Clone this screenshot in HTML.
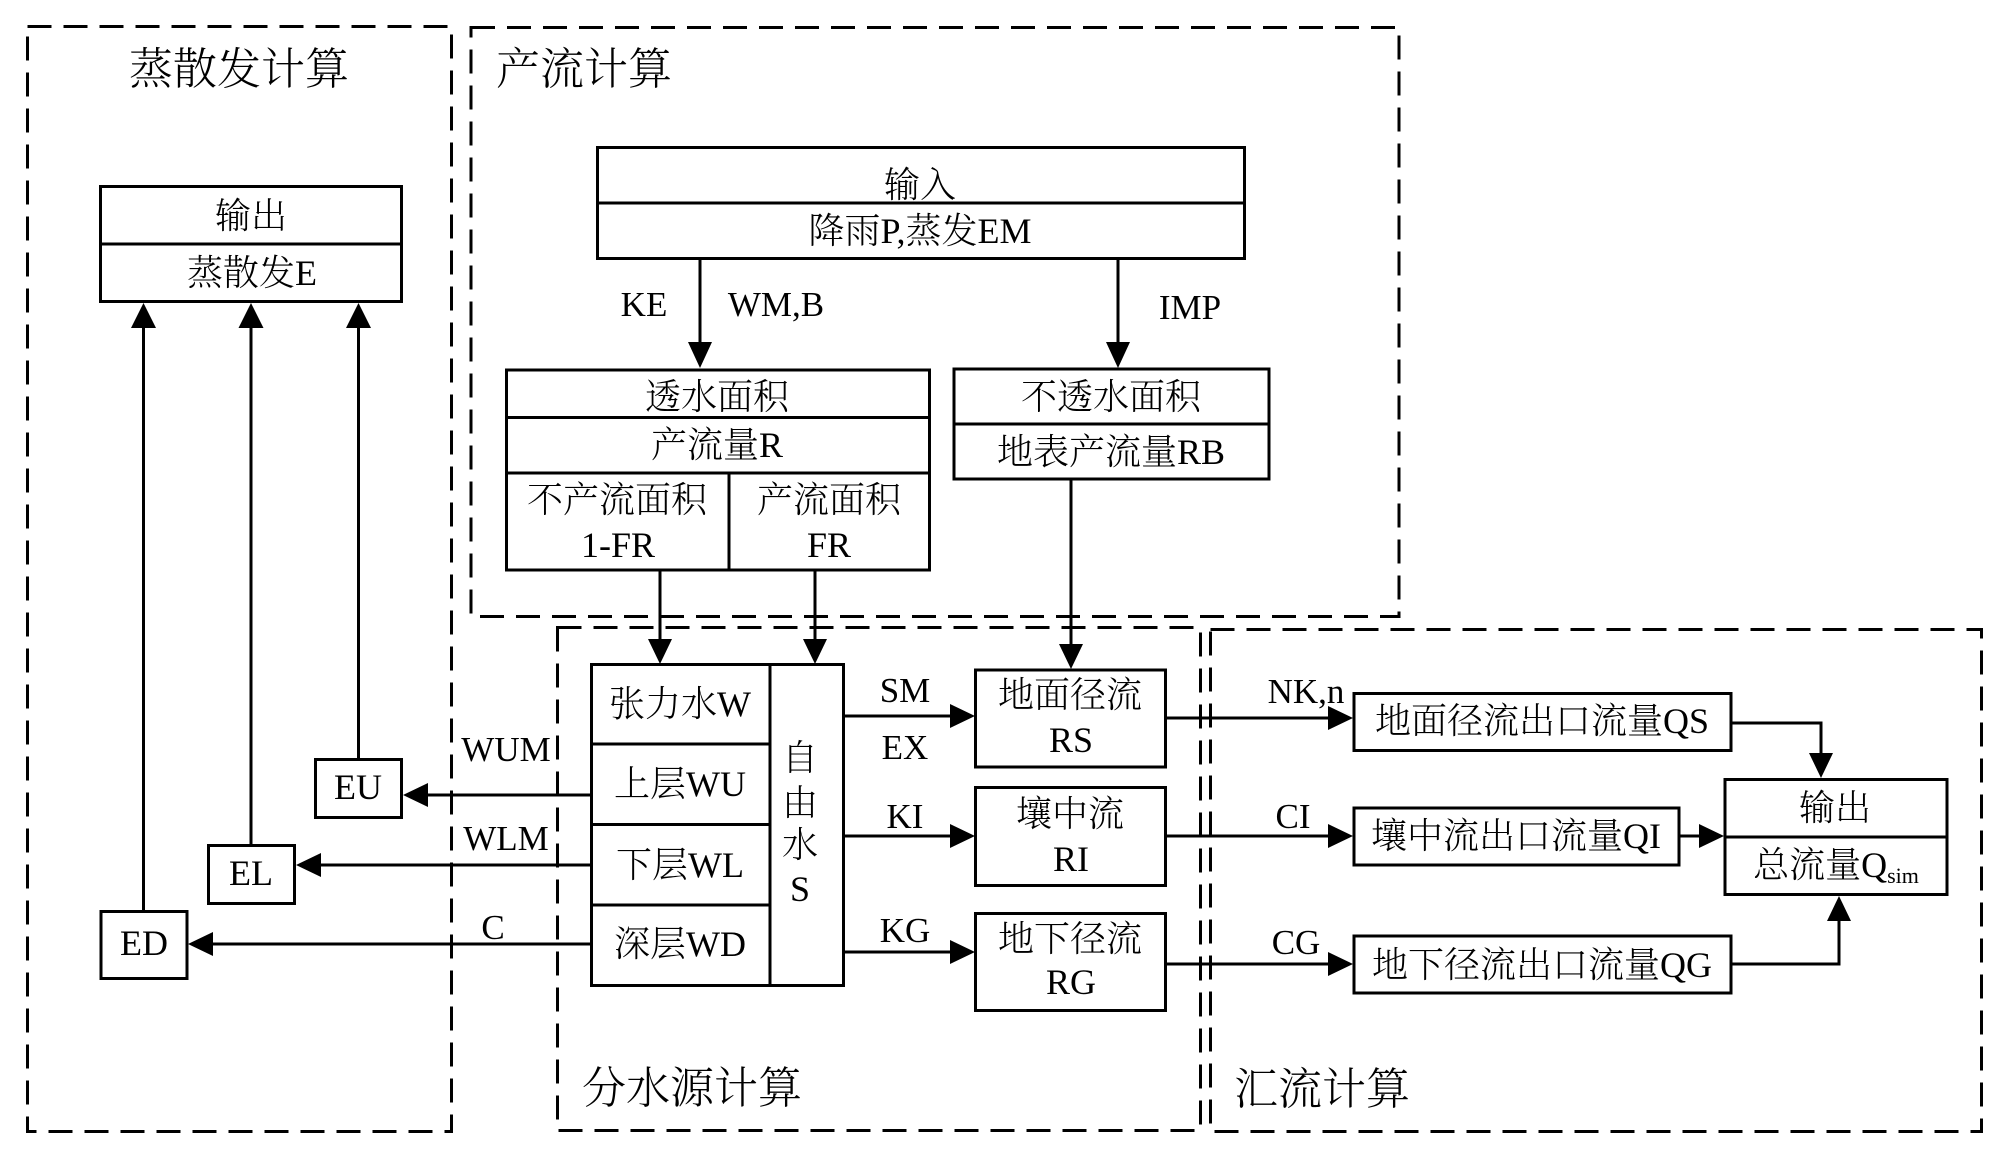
<!DOCTYPE html>
<html>
<head>
<meta charset="utf-8">
<style>
html,body{margin:0;padding:0;background:#fff;width:2000px;height:1158px;overflow:hidden}
svg{display:block}
text{font-family:"Liberation Serif","Noto Serif CJK SC",serif;font-size:36px;fill:#000;text-anchor:middle;font-weight:300}
.t{font-size:44px}
.l{font-size:35px}
</style>
</head>
<body>
<svg width="2000" height="1158" viewBox="0 0 2000 1158" xmlns="http://www.w3.org/2000/svg">
<rect width="2000" height="1158" fill="#fff"/>
<!-- dashed regions -->
<g fill="none" stroke="#000" stroke-width="3" stroke-dasharray="24 12">
<rect x="27.500" y="26.500" width="424" height="1105"/>
<rect x="471" y="27.500" width="928" height="589"/>
<rect x="557.500" y="627.500" width="643" height="503"/>
<rect x="1210.500" y="629.500" width="771" height="502"/>
</g>
<!-- boxes -->
<g fill="#fff" stroke="#000" stroke-width="3">
<rect x="100.500" y="186.500" width="301" height="115"/>
<rect x="597.500" y="147.500" width="647" height="111"/>
<rect x="506.500" y="370" width="423" height="200"/>
<rect x="954" y="369" width="315" height="110"/>
<rect x="591.500" y="664.500" width="252" height="321"/>
<rect x="315.500" y="759.500" width="86" height="58"/>
<rect x="208.500" y="845.500" width="86" height="58"/>
<rect x="101" y="911.500" width="86" height="67"/>
<rect x="975.500" y="670" width="190" height="97"/>
<rect x="975.500" y="787.500" width="190" height="98"/>
<rect x="975.500" y="913.500" width="190" height="97"/>
<rect x="1354" y="693.500" width="377" height="57"/>
<rect x="1354" y="808" width="325" height="57"/>
<rect x="1354" y="936" width="377" height="57"/>
<rect x="1725" y="779.500" width="222" height="115"/>
</g>
<!-- inner lines -->
<g stroke="#000" stroke-width="3" fill="none">
<path d="M100 244H402"/>
<path d="M597 203H1245"/>
<path d="M506 417.500H930M506 473H930M729 473V570"/>
<path d="M954 424H1269"/>
<path d="M592 744H770M592 824.500H770M592 905H770M770 664V986"/>
<path d="M1725 837H1947"/>
</g>
<!-- connectors -->
<g stroke="#000" stroke-width="3" fill="none">
<path d="M143.500 911V320M251 845V320M358.500 759V320"/>
<path d="M700 258V350M1118 258V350"/>
<path d="M660 570V648M815 570V648M1071 479V650"/>
<path d="M591 795H420M591 865H310M591 944H200"/>
<path d="M843 716H960M843 836H960M843 952H960"/>
<path d="M1165 718H1340M1165 836H1340M1165 964H1340"/>
<path d="M1731 723H1821V760M1679 836H1708M1731 964H1839V915"/>
</g>
<!-- arrowheads -->
<g fill="#000" stroke="none">
<path d="M143.500 303L131 328H156Z"/>
<path d="M251 303L238.500 328H263.500Z"/>
<path d="M358.500 303L346 328H371Z"/>
<path d="M700 368L688 342H712Z"/>
<path d="M1118 368L1106 342H1130Z"/>
<path d="M660 664L648 639H672Z"/>
<path d="M815 664L803 639H827Z"/>
<path d="M1071 669L1059 644H1083Z"/>
<path d="M403 795L428 783V807Z"/>
<path d="M296 865L321 853V877Z"/>
<path d="M188 944L213 932V956Z"/>
<path d="M975 716L950 704V728Z"/>
<path d="M975 836L950 824V848Z"/>
<path d="M975 952L950 940V964Z"/>
<path d="M1353 718L1328 706V730Z"/>
<path d="M1353 836L1328 824V848Z"/>
<path d="M1353 964L1328 952V976Z"/>
<path d="M1821 778L1809 753H1833Z"/>
<path d="M1724 836L1699 824V848Z"/>
<path d="M1839 896L1827 921H1851Z"/>
</g>
<!-- titles -->
<text class="t" x="239" y="84">蒸散发计算</text>
<text class="t" x="584" y="84">产流计算</text>
<text class="t" x="692" y="1103">分水源计算</text>
<text class="t" x="1322" y="1104">汇流计算</text>
<!-- box text -->
<text x="251" y="228">输出</text>
<text x="252" y="285">蒸散发E</text>
<text x="920" y="197">输入</text>
<text x="920" y="243">降雨P,蒸发EM</text>
<text x="717" y="409">透水面积</text>
<text x="717" y="457">产流量R</text>
<text x="617" y="512">不产流面积</text>
<text x="618" y="557">1-FR</text>
<text x="829" y="512">产流面积</text>
<text x="829" y="557">FR</text>
<text x="1111" y="409">不透水面积</text>
<text x="1111" y="464">地表产流量RB</text>
<text x="680" y="716">张力水W</text>
<text x="680" y="796">上层WU</text>
<text x="680" y="877">下层WL</text>
<text x="680" y="956">深层WD</text>
<text x="800" y="770">自</text>
<text x="800" y="815">由</text>
<text x="800" y="857">水</text>
<text x="800" y="901">S</text>
<text x="358" y="799">EU</text>
<text x="251" y="885">EL</text>
<text x="144" y="955">ED</text>
<text x="1070" y="707">地面径流</text>
<text x="1071" y="752">RS</text>
<text x="1070" y="826">壤中流</text>
<text x="1071" y="871">RI</text>
<text x="1070" y="951">地下径流</text>
<text x="1071" y="994">RG</text>
<text x="1542" y="733">地面径流出口流量QS</text>
<text x="1516" y="848">壤中流出口流量QI</text>
<text x="1542" y="977">地下径流出口流量QG</text>
<text x="1835" y="820">输出</text>
<text x="1836" y="877">总流量Q<tspan font-size="22" dy="6">sim</tspan></text>
<!-- connector labels -->
<text class="l" x="644" y="316">KE</text>
<text class="l" x="776" y="316">WM,B</text>
<text class="l" x="1190" y="319">IMP</text>
<text class="l" x="506" y="761">WUM</text>
<text class="l" x="506" y="850">WLM</text>
<text class="l" x="493" y="939">C</text>
<text class="l" x="905" y="702">SM</text>
<text class="l" x="905" y="759">EX</text>
<text class="l" x="905" y="828">KI</text>
<text class="l" x="905" y="942">KG</text>
<text class="l" x="1306" y="703">NK,n</text>
<text class="l" x="1293" y="828">CI</text>
<text class="l" x="1296" y="954">CG</text>
</svg>
</body>
</html>
